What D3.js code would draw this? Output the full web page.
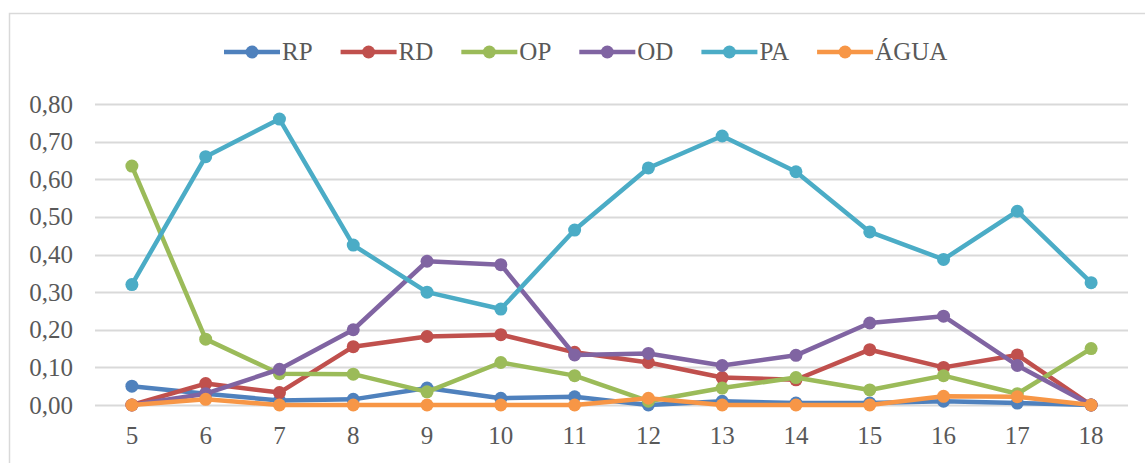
<!DOCTYPE html>
<html>
<head>
<meta charset="utf-8">
<script src="https://cdn.jsdelivr.net/npm/d3@7"></script>
<style>
  body { margin: 0; background: #fff; }
</style>
</head>
<body>
<div id="chart"></div>
<script>
// data
var categories = ["5","6","7","8","9","10","11","12","13","14","15","16","17","18"];
var yTicks = [0, 0.1, 0.2, 0.3, 0.4, 0.5, 0.6, 0.7, 0.8];

var rp   = [0.050, 0.030, 0.012, 0.015, 0.045, 0.018, 0.022, 0.000, 0.010, 0.005, 0.005, 0.010, 0.005, 0.000];
var rd   = [0.000, 0.057, 0.033, 0.155, 0.182, 0.187, 0.140, 0.113, 0.073, 0.067, 0.147, 0.100, 0.133, 0.000];
var op   = [0.635, 0.175, 0.083, 0.082, 0.035, 0.113, 0.078, 0.010, 0.045, 0.073, 0.040, 0.078, 0.030, 0.150];
var od   = [0.000, 0.030, 0.095, 0.200, 0.382, 0.373, 0.133, 0.137, 0.105, 0.132, 0.218, 0.236, 0.105, 0.000];
var pa   = [0.320, 0.660, 0.760, 0.425, 0.300, 0.255, 0.465, 0.630, 0.715, 0.620, 0.460, 0.387, 0.515, 0.325];
var agua = [0.000, 0.015, 0.000, 0.000, 0.000, 0.000, 0.000, 0.018, 0.000, 0.000, 0.000, 0.023, 0.022, 0.000];

var seriesNames = ["RP", "RD", "OP", "OD", "PA", "ÁGUA"];
var seriesValues = [rp, rd, op, od, pa, agua];
var colors = ["#4F81BD", "#C0504D", "#9BBB59", "#8064A2", "#4BACC6", "#F79646"];

var W = 1145, H = 463;
var margin = {top: 104, right: 17, bottom: 58, left: 95};
var width = W - margin.left - margin.right,
    height = H - margin.top - margin.bottom;
var FONT = "'Liberation Serif'";

var svg = d3.select("#chart").append("svg").attr("width", W).attr("height", H);

// outer frame
svg.append("rect").attr("x", 9.5).attr("y", 13.5).attr("width", W).attr("height", H)
   .style("fill", "none").style("stroke", "#d9d9d9").style("stroke-width", 1.5);

var g = svg.append("g").attr("transform", "translate(" + margin.left + "," + margin.top + ")");

var x = d3.scaleBand().domain(categories).range([0, width]);
var y = d3.scaleLinear().domain([0, 0.8]).range([height, 0]);
var fmt = function(d) { return d3.format(".2f")(d).replace(".", ","); };

// gridlines
g.append("g").selectAll("line").data(yTicks).enter().append("line")
  .attr("x1", 0).attr("x2", width)
  .attr("y1", function(d) { return Math.round(y(d)) + 0.5; })
  .attr("y2", function(d) { return Math.round(y(d)) + 0.5; })
  .style("stroke", "#d9d9d9").style("stroke-width", 2);

// y axis labels
var yAxis = d3.axisLeft(y).tickValues(yTicks).tickFormat(fmt).tickSize(0).tickPadding(22);
var ya = g.append("g").call(yAxis);
ya.attr("font-family", null);
ya.select(".domain").remove();
ya.selectAll("text").style("font-size", "25px").style("font-family", FONT).attr("fill", "#595959");

// x axis labels
var xAxis = d3.axisBottom(x).tickSize(0).tickPadding(21);
var xa = g.append("g").attr("transform", "translate(0," + height + ")").call(xAxis);
xa.attr("font-family", null);
xa.select(".domain").remove();
xa.selectAll("text").style("font-size", "25px").style("font-family", FONT).attr("fill", "#595959");

var cx = function(i) { return x(categories[i]) + x.bandwidth() / 2; };
var line = d3.line().x(function(d, i) { return cx(i); }).y(function(d) { return y(d); });

for (var j = 0; j < seriesValues.length; j++) {
  g.append("path").datum(seriesValues[j]).attr("d", line)
    .style("fill", "none").style("stroke", colors[j]).style("stroke-width", 4.5)
    .style("stroke-linejoin", "round");
  g.append("g").selectAll("circle").data(seriesValues[j]).enter().append("circle")
    .attr("cx", function(d, i) { return cx(i); }).attr("cy", function(d) { return y(d); })
    .attr("r", 6.5).style("fill", colors[j]);
}

// legend
var legend = svg.append("g");
var lx = 0, gap = 28;
seriesNames.forEach(function(name, i) {
  var it = legend.append("g").attr("transform", "translate(" + lx + ",0)");
  it.append("line").attr("x1", 0).attr("x2", 56).attr("y1", 0).attr("y2", 0)
    .style("stroke", colors[i]).style("stroke-width", 4.5);
  it.append("circle").attr("cx", 28).attr("cy", 0).attr("r", 6.5).style("fill", colors[i]);
  var t = it.append("text").attr("x", 58).attr("y", 8).style("font-size", "25px")
    .style("font-family", FONT).attr("fill", "#595959").text(name);
  lx += 58 + t.node().getComputedTextLength() + gap;
});
lx -= gap;
legend.attr("transform", "translate(" + Math.round((W + 27 - lx) / 2) + ",52)");
</script>
</body>
</html>
